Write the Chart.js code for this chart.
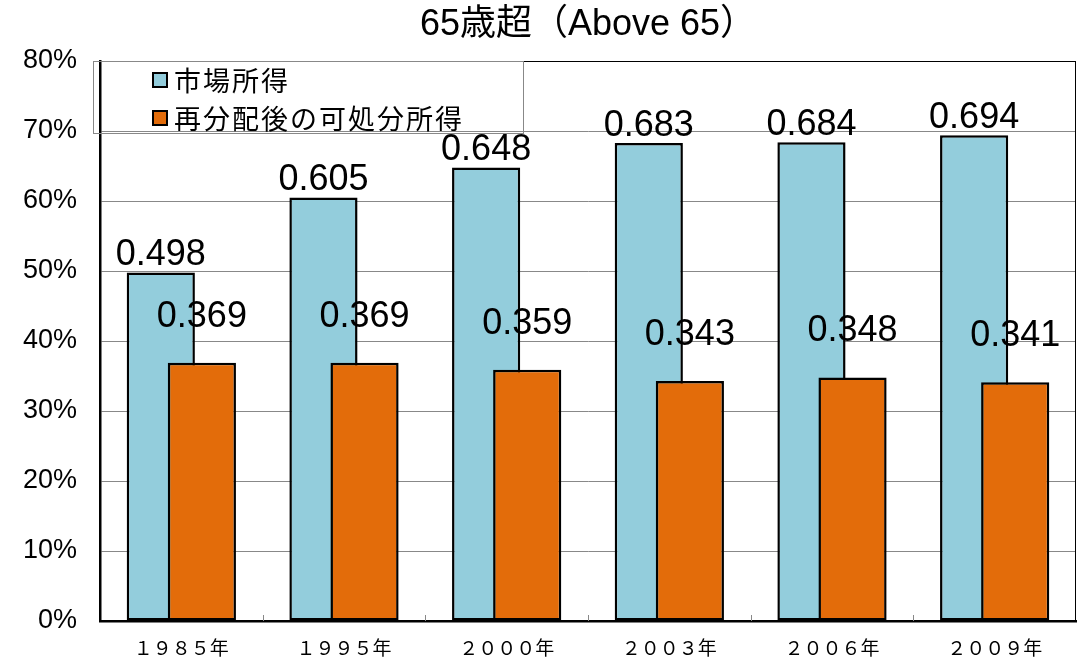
<!DOCTYPE html>
<html>
<head>
<meta charset="utf-8">
<script src="https://cdn.jsdelivr.net/npm/chart.js@4/dist/chart.umd.min.js"></script>
<style>
  html, body { margin: 0; padding: 0; background: #fff; }
  #wrap { width: 1079px; height: 662px; position: relative; }
</style>
</head>
<body>
<div id="wrap"><canvas id="c" width="1079" height="662"></canvas></div>
<script>
// Gini coefficients for households aged over 65
const years = ['１９８５年', '１９９５年', '２０００年', '２００３年', '２００６年', '２００９年'];
const marketIncome = [0.498, 0.605, 0.648, 0.683, 0.684, 0.694];
const disposableIncome = [0.369, 0.369, 0.359, 0.343, 0.348, 0.341];
const seriesNames = ['市場所得', '再分配後の可処分所得'];
const yTicks = [0, 0.1, 0.2, 0.3, 0.4, 0.5, 0.6, 0.7, 0.8];
const titleText = '65歳超（Above 65）';

const BLUE = '#93CDDC';
const ORANGE = '#E36C0A';
const LATIN = '"Liberation Sans", Arial, sans-serif';
const CJK = '"Noto Sans CJK JP", "Liberation Sans", sans-serif';
const TITLE_FONT = '"Liberation Sans", "Noto Sans CJK JP", sans-serif';

// bars of each year overlap; the right-hand bar is painted over the left one
const overlapOrder = {
  id: 'overlapOrder',
  beforeDatasetsDraw(chart) {
    const a = chart.chartArea, ctx = chart.ctx;
    ctx.save();
    ctx.strokeStyle = '#000';
    ctx.lineWidth = 1;
    ctx.strokeRect(a.left + 0.5, a.top + 0.5, a.right - a.left - 1, a.bottom - a.top);
    // small inner tick marks between categories
    const xs = chart.scales.x;
    ctx.strokeStyle = '#888';
    for (let i = 1; i < years.length; i++) {
      const x = Math.round((xs.getPixelForTick(i - 1) + xs.getPixelForTick(i)) / 2) + 0.5;
      ctx.beginPath();
      ctx.moveTo(x, a.bottom);
      ctx.lineTo(x, a.bottom - 6);
      ctx.stroke();
    }
    ctx.restore();
    chart.getSortedVisibleDatasetMetas().forEach(m => m.controller.draw());
    return false;
  }
};

const decorations = {
  id: 'decorations',
  afterDraw(chart) {
    const ctx = chart.ctx, a = chart.chartArea;
    ctx.save();
    // title
    ctx.fillStyle = '#000';
    ctx.font = '36px ' + TITLE_FONT;
    ctx.textAlign = 'center';
    ctx.textBaseline = 'middle';
    ctx.fillText(titleText, (a.left + a.right) / 2, 25);

    // value labels
    ctx.font = '36px ' + LATIN;
    const lift = [17, 46];
    chart.data.datasets.forEach((ds, di) => {
      const meta = chart.getDatasetMeta(di);
      meta.data.forEach((bar, i) => {
        ctx.fillText(ds.data[i].toFixed(3), bar.x, bar.y - lift[di]);
      });
    });

    // legend box
    ctx.strokeStyle = '#888';
    ctx.lineWidth = 1;
    ctx.strokeRect(93.5, a.top + 0.5, 430, 72);
    ctx.font = '27px ' + CJK;
    ctx.textAlign = 'left';
    ctx.letterSpacing = '2px';
    chart.data.datasets.forEach((ds, di) => {
      const cy = a.top + 19 + di * 38;
      ctx.fillStyle = ds.backgroundColor;
      ctx.fillRect(153, cy - 7, 14, 14);
      ctx.strokeStyle = '#000';
      ctx.lineWidth = 2;
      ctx.strokeRect(153, cy - 7, 14, 14);
      ctx.fillStyle = '#000';
      ctx.fillText(ds.label, 174, cy + 1);
    });
    ctx.restore();
  }
};

new Chart(document.getElementById('c'), {
  type: 'bar',
  data: {
    labels: years,
    datasets: [
      { label: seriesNames[0], data: marketIncome, backgroundColor: BLUE },
      { label: seriesNames[1], data: disposableIncome, backgroundColor: ORANGE }
    ]
  },
  options: {
    responsive: false,
    animation: false,
    events: [],
    layout: { padding: { top: 61, right: 3, left: 0, bottom: 0 } },
    datasets: {
      bar: {
        categoryPercentage: 0.505,
        barPercentage: 1.66,
        borderColor: '#000',
        borderWidth: 2.5,
        borderSkipped: false
      }
    },
    plugins: {
      legend: { display: false },
      title: { display: false },
      tooltip: { enabled: false }
    },
    scales: {
      x: {
        offset: true,
        grid: { display: false, drawTicks: false },
        border: { display: true, color: '#000', width: 2.5 },
        ticks: { color: '#000', font: { family: CJK, size: 19 }, padding: 15, maxRotation: 0 },
        afterFit(s) { s.height = 41; }
      },
      y: {
        min: 0,
        max: 0.8,
        afterBuildTicks(s) { s.ticks = yTicks.map(v => ({ value: v })); },
        grid: { color: '#888', lineWidth: 1, drawTicks: false },
        border: { display: true, color: '#000', width: 2.5 },
        ticks: {
          color: '#000',
          padding: 23,
          font: { family: LATIN, size: 27 },
          callback: v => Math.round(v * 100) + '%'
        },
        afterFit(s) { s.width = 100; }
      }
    }
  },
  plugins: [overlapOrder, decorations]
});
</script>
</body>
</html>
